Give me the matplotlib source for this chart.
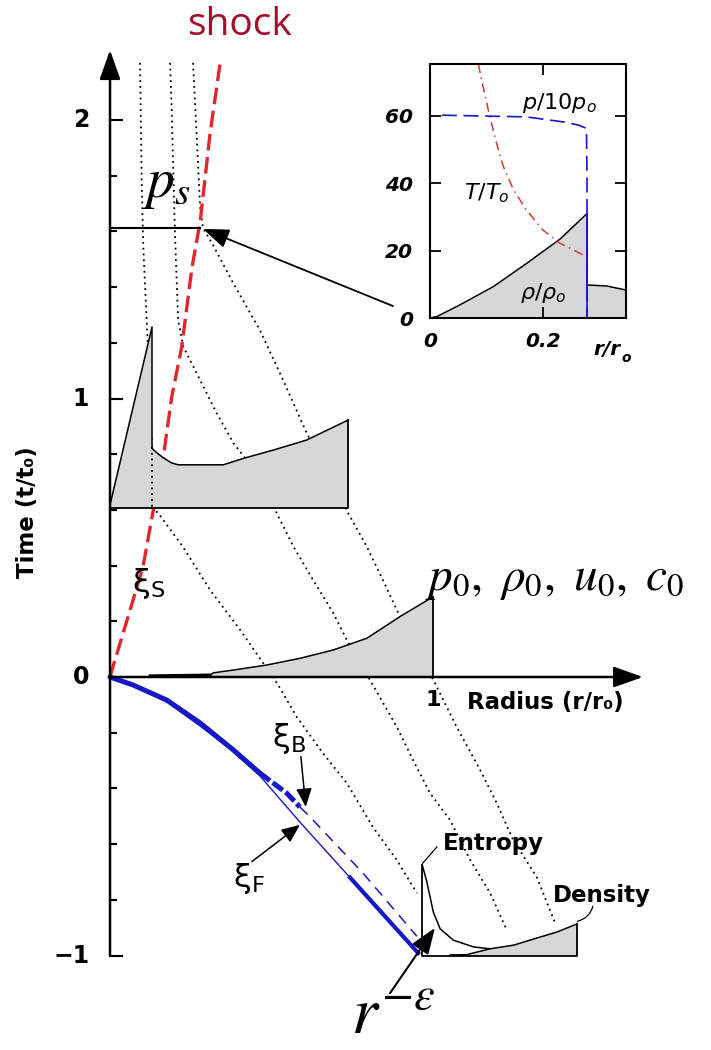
import numpy as np
import matplotlib.pyplot as plt

plt.rcParams['mathtext.fontset'] = 'dejavusans'
plt.rcParams['font.family'] = ['DejaVu Sans']

# ---------------- data (radius r/r0, time t/t0) ----------------
time_major = [-1.0, 0.0, 1.0, 2.0]
time_ticks = [-1.0, -0.8, -0.6, -0.4, -0.2, 0.0, 0.2, 0.4, 0.6, 0.8,
              1.0, 1.2, 1.4, 1.6, 1.8, 2.0]
time_labels = ['\u22121', '0', '1', '2']

# shock trajectory xi_S
shock_r = [0.000, 0.006, 0.053, 0.102, 0.130, 0.165, 0.191, 0.222, 0.254, 0.279, 0.310, 0.341]
shock_t = [0.000, 0.025, 0.205, 0.395, 0.574, 0.790, 1.005, 1.185, 1.472, 1.634, 1.953, 2.205]

# fluid-element paths (dotted)
path1_r = [0.093, 0.098, 0.103, 0.114, 0.130, 0.130, 0.149, 0.226, 0.310, 0.403, 0.474,
           0.517, 0.578, 0.659, 0.733, 0.814, 0.888, 0.950]
path1_t = [2.205, 1.785, 1.545, 1.271, 0.826, 0.607, 0.589, 0.467, 0.312, 0.169, 0.050,
           -0.022, -0.143, -0.273, -0.381, -0.539, -0.657, -0.776]
path2_r = [0.186, 0.191, 0.201, 0.211, 0.227, 0.279, 0.330, 0.382, 0.418, 0.511, 0.568,
           0.629, 0.691, 0.733, 0.805, 0.888, 0.938, 0.991, 1.053, 1.115, 1.177, 1.228]
path2_t = [2.205, 2.036, 1.594, 1.282, 1.186, 1.066, 0.948, 0.840, 0.786, 0.600, 0.468,
           0.348, 0.230, 0.133, -0.011, -0.179, -0.298, -0.417, -0.514, -0.657, -0.776, -0.908]
path3_r = [0.257, 0.268, 0.279, 0.288, 0.319, 0.381, 0.464, 0.536, 0.609, 0.737, 0.795,
           0.845, 0.888, 1.006, 1.073, 1.146, 1.197, 1.248, 1.321, 1.378]
path3_t = [2.205, 1.953, 1.688, 1.612, 1.551, 1.415, 1.246, 1.066, 0.876, 0.589, 0.468,
           0.348, 0.241, -0.022, -0.179, -0.334, -0.452, -0.585, -0.718, -0.883]

# profile behind the shock (baseline t = 0.607)
mid_t0 = 0.607
mid_r = [0.000, 0.130, 0.130, 0.145, 0.165, 0.190, 0.211, 0.351, 0.413, 0.506, 0.609, 0.738]
mid_h = [0.011, 0.650, 0.214, 0.198, 0.180, 0.162, 0.155, 0.155, 0.178, 0.208, 0.244, 0.316]

# initial profile (t = 0)
init_r = [0.124, 0.310, 0.320, 0.382, 0.485, 0.588, 0.691, 0.795, 0.898, 1.000]
init_h = [0.004, 0.007, 0.015, 0.025, 0.043, 0.067, 0.097, 0.139, 0.217, 0.288]

# profiles at t = -1
pre_t0 = -1.0
entropy_r = [0.967, 0.981, 1.001, 1.022, 1.063, 1.125, 1.176]
entropy_h = [0.324, 0.264, 0.156, 0.096, 0.055, 0.031, 0.024]
density_r = [1.053, 1.104, 1.176, 1.249, 1.331, 1.383, 1.447]
density_h = [0.002, 0.003, 0.024, 0.037, 0.066, 0.084, 0.114]

# converging front xi_F and back xi_B
xiF_r = [0.000, 0.072, 0.176, 0.279, 0.372, 0.464, 0.588, 0.743, 0.845, 0.954]
xiF_t = [0.000, -0.032, -0.090, -0.176, -0.259, -0.355, -0.521, -0.720, -0.851, -0.991]
xiB_r = [0.000, 0.072, 0.176, 0.279, 0.382, 0.464, 0.547, 0.588, 0.619, 0.784, 0.950]
xiB_t = [0.000, -0.029, -0.083, -0.165, -0.262, -0.345, -0.417, -0.467, -0.502, -0.705, -0.931]

# snapshot at t_s (inset)
t_snap = 1.612
r_snap = 0.279
in_rho_r = [0.000, 0.012, 0.053, 0.112, 0.171, 0.230, 0.278, 0.278, 0.313, 0.347]
in_rho_v = [0.0, 0.4, 3.9, 9.3, 16.2, 23.4, 31.0, 9.8, 9.5, 8.3]
in_p_r = [0.021, 0.171, 0.236, 0.262, 0.277, 0.278, 0.278]
in_p_v = [60.2, 59.7, 58.2, 57.3, 56.3, 40.0, 0.0]
in_T_r = [0.0855, 0.094, 0.106, 0.118, 0.130, 0.148, 0.171, 0.200, 0.230, 0.254, 0.277]
in_T_v = [75.4, 68.6, 59.7, 51.8, 44.9, 38.0, 32.0, 26.1, 22.2, 20.2, 18.2]
in_yticks = [0, 20, 40, 60]
in_xticks = [0, 0.2]
in_xticklabels = ['0', '0.2']

# ---------------- drawing ----------------
GRAY = '#d7d7d7'
BLUE = '#1717c8'
RED = '#e3262b'
DOT = (0, (1, 2.2))

fig = plt.figure(figsize=(7.11, 10.5), dpi=100)
ax = fig.add_axes([0, 0, 1, 1])
ax.set_xlim(-0.3406, 1.8607)
ax.set_ylim(-1.3393, 2.4309)
ax.axis('off')

# particle paths
for pr, pt in [(path1_r, path1_t), (path2_r, path2_t), (path3_r, path3_t)]:
    ax.plot(pr, pt, color='black', lw=1.3, ls=DOT, zorder=1)

# shock
ax.plot(shock_r, shock_t, color=RED, lw=2.4, ls=(0, (5, 2)), zorder=1.5)

# profile behind the shock
mr = np.array(mid_r)
mh = mid_t0 + np.array(mid_h)
ax.fill(np.r_[mr, mr[-1], mr[0]], np.r_[mh, mid_t0, mid_t0], color=GRAY, lw=0, zorder=2)
ax.plot(mr, mh, color='black', lw=1.1, zorder=3)
ax.plot([mr[0], mr[-1], mr[-1]], [mid_t0, mid_t0, mh[-1]], color='black', lw=1.3, zorder=3)
ax.plot(path1_r[4:6], path1_t[4:6], color='black', lw=1.3, ls=DOT, zorder=3)

# initial profile
ir = np.array(init_r)
ih = np.array(init_h)
ax.fill(np.r_[ir, ir[-1], ir[0]], np.r_[ih, 0, 0], color=GRAY, lw=0, zorder=2)
ax.plot(ir, ih, color='black', lw=1.1, zorder=3)
ax.plot(ir[:2], ih[:2], color='black', lw=2.2, zorder=3)
ax.plot([ir[-1], ir[-1]], [0, ih[-1]], color='black', lw=1.3, zorder=3)

# profiles at t = -1
dr = np.array(density_r)
dh = pre_t0 + np.array(density_h)
ax.fill(np.r_[dr, dr[-1], dr[0]], np.r_[dh, pre_t0, pre_t0], color=GRAY, lw=0, zorder=2)
ax.plot(dr, dh, color='black', lw=1.1, zorder=3)
er = np.array(entropy_r)
eh = pre_t0 + np.array(entropy_h)
ax.plot(er, eh, color='black', lw=1.1, zorder=3)
ax.plot([er[0], er[0], dr[-1], dr[-1]], [eh[0], pre_t0, pre_t0, dh[-1]],
        color='black', lw=1.3, zorder=3)

# xi_B and xi_F
ax.plot(xiF_r, xiF_t, color=BLUE, lw=1.0, zorder=4)
ax.plot(xiF_r[7:], xiF_t[7:], color=BLUE, lw=3.0, zorder=4)
ax.plot(xiB_r[:6], xiB_t[:6], color=BLUE, lw=3.6, solid_capstyle='round', zorder=4)
ax.plot(xiB_r[5:8], xiB_t[5:8], color=BLUE, lw=3.6, ls=(0, (2.5, 0.7)), zorder=4)
ax.plot(xiB_r[7:], xiB_t[7:], color=BLUE, lw=1.1, ls=(0, (7, 5)), zorder=4)

# axes with arrows
arrow = dict(arrowstyle='-|>,head_length=0.9,head_width=0.32', lw=1.8, color='black',
             shrinkA=0, shrinkB=0, mutation_scale=20)
ax.annotate('', xy=(0, 2.251), xytext=(0, -1.0), arrowprops=arrow, zorder=6)
ax.annotate('', xy=(1.650, 0), xytext=(0, 0), arrowprops=arrow, zorder=6)
for v in time_ticks:
    L = 0.037 if v in time_major else 0.019
    ax.plot([0, L], [v, v], color='black', lw=1.5, zorder=6)
for v, lab in zip(time_major, time_labels):
    ax.annotate(lab, xy=(0, v), xytext=(-15, 0), textcoords='offset points',
                ha='right', va='center', fontsize=17, fontweight='bold')
ax.text(1.0, -0.083, '1', ha='center', va='center', fontsize=16, fontweight='bold')
ax.text(1.105, -0.093, 'Radius (r/r\u2080)', ha='left', va='center', fontsize=16.5,
        fontweight='bold')
ax.text(-0.254, 0.592, 'Time (t/t\u2080)', rotation=90, ha='center', va='center',
        fontsize=16.5, fontweight='bold')

# snapshot marker and arrow to inset
ax.plot([0, r_snap], [t_snap, t_snap], color='black', lw=1.5, zorder=5)
ax.annotate('', xy=(0.288, 1.609), xytext=(0.876, 1.332),
            arrowprops=dict(arrowstyle='-|>,head_length=0.8,head_width=0.3', lw=1.3,
                            color='black', shrinkA=0, shrinkB=0, mutation_scale=20), zorder=6)

# annotations
ax.text(0.402, 2.341, 'shock', ha='center', va='center', fontsize=28,
        color='#a50d2d', family='Open Sans')
ax.text(0.099, 1.724, r'$p_s$', fontsize=40, math_fontfamily='stix', va='baseline')
ax.text(0.975, 0.312, r'$p_0,\ \rho_0,\ u_0,\ c_0$', fontsize=34,
        math_fontfamily='stix', va='baseline')
ax.text(0.745, -1.331, r'$r^{-\varepsilon}$', fontsize=48, math_fontfamily='stix',
        va='bottom')
ax.text(0.118, 0.336, r'$\mathrm{\xi}_\mathrm{S}$', ha='center', va='center', fontsize=23)
ax.text(0.554, -0.222, r'$\mathrm{\xi}_\mathrm{B}$', ha='center', va='center', fontsize=23)
ax.text(0.430, -0.725, r'$\mathrm{\xi}_\mathrm{F}$', ha='center', va='center', fontsize=23)
small_arrow = dict(arrowstyle='-|>,head_length=0.7,head_width=0.3', lw=1.1, color='black',
                   shrinkA=0, shrinkB=0, mutation_scale=16)
ax.annotate('', xy=(0.606, -0.466), xytext=(0.591, -0.286), arrowprops=small_arrow, zorder=6)
ax.annotate('', xy=(0.588, -0.531), xytext=(0.439, -0.663), arrowprops=small_arrow, zorder=6)
ax.annotate('', xy=(1.006, -0.901), xytext=(0.867, -1.135),
            arrowprops=dict(arrowstyle='-|>,head_length=0.8,head_width=0.3', lw=1.5,
                            color='black', shrinkA=0, shrinkB=0, mutation_scale=20), zorder=6)
ax.text(1.186, -0.597, 'Entropy', ha='center', va='center', fontsize=16.5, fontweight='bold')
ax.text(1.523, -0.783, 'Density', ha='center', va='center', fontsize=16.5, fontweight='bold')
ax.plot([1.012, 0.968], [-0.610, -0.669], color='black', lw=0.9, zorder=3)
ax.annotate('', xy=(1.447, -0.877), xytext=(1.495, -0.823),
            arrowprops=dict(arrowstyle='-', lw=0.9, color='black', shrinkA=0, shrinkB=0,
                            connectionstyle='arc3,rad=-0.3'))

# ---------------- inset: snapshot at t_s ----------------
axin = fig.add_axes([430 / 711, 1 - 318 / 1050, 196 / 711, 254 / 1050])
axin.set_xlim(0, 0.347)
axin.set_ylim(0, 75.4)
ri = np.array(in_rho_r)
vi = np.array(in_rho_v)
axin.fill_between(ri, 0, vi, color=GRAY, lw=0)
axin.plot(ri, vi, color='black', lw=1.1)
axin.plot(in_T_r, in_T_v, color='#d23a3a', lw=1.1, ls=(0, (6, 3, 1, 3)))
axin.plot(in_p_r, in_p_v, color=BLUE, lw=1.2, ls=(0, (9, 4)))
axin.plot([r_snap - 0.001, r_snap - 0.001], [0, max(in_rho_v)], color=BLUE, lw=1.2)
axin.set_xticks(in_xticks)
axin.set_xticklabels(in_xticklabels)
axin.set_yticks(in_yticks)
axin.tick_params(direction='in', length=8, width=1.3, top=True, right=True,
                 labelsize=14.5)
axin.tick_params(axis='y', pad=12)
axin.tick_params(axis='x', pad=10)
for lab in axin.get_xticklabels() + axin.get_yticklabels():
    lab.set_fontweight('bold')
    lab.set_fontstyle('italic')
for sp in axin.spines.values():
    sp.set_linewidth(1.5)
axin.text(0.230, 63.8, r'$\mathit{p/10p_o}$', ha='center', va='center', fontsize=16)
axin.text(0.101, 37.1, r'$\mathit{T/T_o}$', ha='center', va='center', fontsize=16)
axin.text(0.200, 7.4, r'$\rho/\rho_o$', ha='center', va='center', fontsize=16)
fig.text(593 / 711, 1 - 350 / 1050, 'r/r', ha='left', va='center', fontsize=14.5,
         fontweight='bold', style='italic')
fig.text(621 / 711, 1 - 358 / 1050, 'o', ha='left', va='center', fontsize=10,
         fontweight='bold', style='italic')

fig.savefig('out.png', dpi=100)
